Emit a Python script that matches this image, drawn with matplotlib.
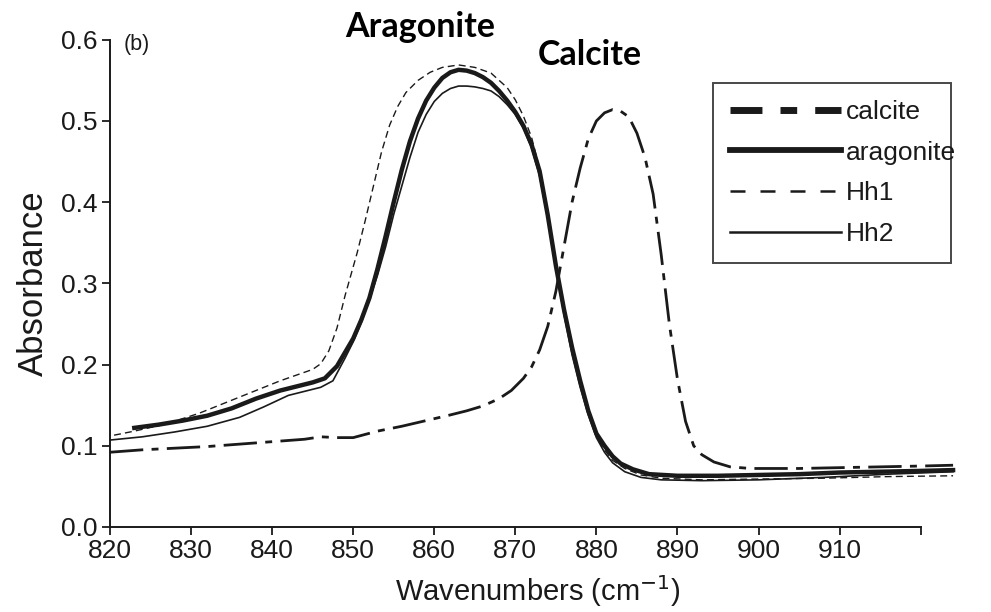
import matplotlib
matplotlib.use("Agg")
import matplotlib.pyplot as plt
from matplotlib.lines import Line2D

plt.rcParams['font.family'] = ['Liberation Sans', 'DejaVu Sans']

# calcite reference spectrum
calc_x = [820, 824, 828, 832, 836, 840, 844, 846, 848, 850, 853, 856, 859, 862, 864,
          866, 868, 869.5, 871, 872, 873, 874, 875, 876, 877, 878, 879, 880, 881, 882,
          883, 884, 885, 886, 887, 888, 889, 890, 891, 892, 893, 894.5, 896.5, 899,
          905, 910, 915, 920, 924]
calc_y = [0.092, 0.095, 0.097, 0.099, 0.102, 0.105, 0.108, 0.111, 0.110, 0.110, 0.118,
          0.124, 0.131, 0.138, 0.143, 0.149, 0.158, 0.168, 0.183, 0.197, 0.218, 0.247,
          0.290, 0.345, 0.400, 0.442, 0.478, 0.500, 0.510, 0.514, 0.512, 0.505, 0.485,
          0.455, 0.410, 0.335, 0.250, 0.182, 0.130, 0.100, 0.089, 0.080, 0.074, 0.072,
          0.072, 0.073, 0.074, 0.075, 0.076]

# aragonite reference spectrum
arag_x = [823, 826, 829, 832, 835, 838, 841, 843, 845, 846.5, 848, 849, 850, 851, 852,
          853, 854, 855, 856, 857, 858, 859, 860, 861, 862, 863, 864, 865, 866, 867,
          868, 869, 870, 871, 872, 873, 874, 875, 876, 877, 878, 879, 880, 881, 882,
          883, 884.5, 886.5, 890, 895, 900, 905, 910, 915, 920, 924]
arag_y = [0.122, 0.126, 0.131, 0.137, 0.146, 0.158, 0.168, 0.173, 0.178, 0.183, 0.198,
          0.215, 0.232, 0.255, 0.282, 0.318, 0.358, 0.400, 0.440, 0.475, 0.503, 0.525,
          0.541, 0.553, 0.560, 0.563, 0.562, 0.559, 0.554, 0.547, 0.537, 0.525, 0.511,
          0.494, 0.471, 0.438, 0.384, 0.322, 0.268, 0.221, 0.180, 0.143, 0.115, 0.100,
          0.087, 0.078, 0.071, 0.065, 0.063, 0.063, 0.064, 0.065, 0.067, 0.068, 0.069,
          0.070]

# sample Hh1
hh1_x = [820.5, 823, 827, 831, 835, 838, 841, 843, 845, 846, 847, 848, 849, 850.5,
         851.5, 852.5, 853.5, 854.5, 855.5, 856.5, 858, 859.5, 861, 863, 865, 867, 869,
         870, 871, 872, 873, 874, 875, 876, 877, 878, 879, 880, 881, 882, 883.5, 885.5,
         888, 893, 900, 908, 916, 924]
hh1_y = [0.113, 0.118, 0.127, 0.140, 0.156, 0.168, 0.180, 0.187, 0.194, 0.201, 0.217,
         0.245, 0.285, 0.338, 0.378, 0.420, 0.462, 0.495, 0.518, 0.535, 0.550, 0.560,
         0.566, 0.569, 0.566, 0.559, 0.541, 0.526, 0.506, 0.480, 0.441, 0.388, 0.326,
         0.268, 0.218, 0.175, 0.140, 0.112, 0.095, 0.082, 0.072, 0.064, 0.060, 0.058,
         0.059, 0.060, 0.062, 0.063]

# sample Hh2
hh2_x = [820, 824, 828, 832, 836, 839, 842, 844, 846, 847.5, 849, 850, 851, 852, 853,
         854, 855, 856, 857, 858, 859, 860, 861, 862, 863, 864, 865, 866, 867, 868, 869,
         870, 871, 872, 873, 874, 875, 876, 877, 878, 879, 880, 881, 882, 883.5, 885.5,
         888, 893, 900, 908, 916, 924]
hh2_y = [0.107, 0.111, 0.117, 0.124, 0.135, 0.148, 0.162, 0.167, 0.172, 0.180, 0.208,
         0.228, 0.252, 0.280, 0.310, 0.345, 0.385, 0.420, 0.455, 0.486, 0.508, 0.524,
         0.534, 0.540, 0.543, 0.543, 0.542, 0.540, 0.537, 0.530, 0.520, 0.508, 0.491,
         0.467, 0.432, 0.380, 0.320, 0.262, 0.212, 0.172, 0.138, 0.110, 0.092, 0.079,
         0.068, 0.061, 0.058, 0.057, 0.058, 0.061, 0.065, 0.068]

xticks = [820, 830, 840, 850, 860, 870, 880, 890, 900, 910, 920]
xlabels = ['820', '830', '840', '850', '860', '870', '880', '890', '900', '910', '']
yticks = [0.0, 0.1, 0.2, 0.3, 0.4, 0.5, 0.6]

ink = '#1a1a1a'

fig = plt.figure(figsize=(9.91, 6.12), dpi=100)
ax = fig.add_axes([0.111, 0.139, 0.818, 0.796])

ax.plot(calc_x, calc_y, color=ink, lw=2.0, dashes=(12, 3, 2.5, 3), clip_on=False)
ax.plot(arag_x, arag_y, color=ink, lw=3.2, clip_on=False)
ax.plot(hh1_x, hh1_y, color=ink, lw=1.0, dashes=(5, 3), clip_on=False)
ax.plot(hh2_x, hh2_y, color=ink, lw=1.2, clip_on=False)

ax.set_xlim(820, 920)
ax.set_ylim(0, 0.6)
ax.set_xticks(xticks)
ax.set_xticklabels(xlabels)
ax.set_yticks(yticks)
ax.set_yticklabels(['%.1f' % v for v in yticks])
ax.tick_params(direction='out', length=6, width=1.3, labelsize=19, colors=ink, pad=3)

for s in ['top', 'right']:
    ax.spines[s].set_visible(False)
for s in ['left', 'bottom']:
    ax.spines[s].set_linewidth(1.4)
    ax.spines[s].set_color(ink)

ax.set_xlabel('Wavenumbers (cm$^{-1}$)', fontsize=21, color=ink)
ax.xaxis.set_label_coords(0.528, -0.095)
ax.set_ylabel('Absorbance', fontsize=25, color=ink)
ax.yaxis.set_label_coords(-0.074, 0.5)

ax.text(821.7, 0.594, '(b)', fontsize=15.5, color=ink, va='center', ha='left')

handles = [
    Line2D([], [], color=ink, lw=5, dashes=(4.6, 2.6, 2.4, 2.6)),
    Line2D([], [], color=ink, lw=4.2),
    Line2D([], [], color=ink, lw=1.8, dashes=(6, 6)),
    Line2D([], [], color=ink, lw=1.8),
]
leg = ax.legend(handles, ['calcite', 'aragonite', 'Hh1', 'Hh2'],
                loc='upper left', bbox_to_anchor=(0.7435, 0.0, 0.2945, 0.912),
                mode='expand', fontsize=19, handlelength=4.2, handletextpad=0.2,
                labelspacing=0.63, borderpad=0.66, borderaxespad=0,
                frameon=True, fancybox=False)
leg.get_frame().set_edgecolor(ink)
leg.get_frame().set_linewidth(1.4)
for t in leg.get_texts():
    t.set_color(ink)

fig.text(420 / 991, 1 - 27 / 612, 'Aragonite', fontsize=24.5, fontweight='bold',
         family=['Lato', 'DejaVu Sans'], ha='center', va='center', color='black')
fig.text(590 / 991, 1 - 55 / 612, 'Calcite', fontsize=24.5, fontweight='bold',
         family=['Lato', 'DejaVu Sans'], ha='center', va='center', color='black')

fig.savefig('out.png', dpi=100)
